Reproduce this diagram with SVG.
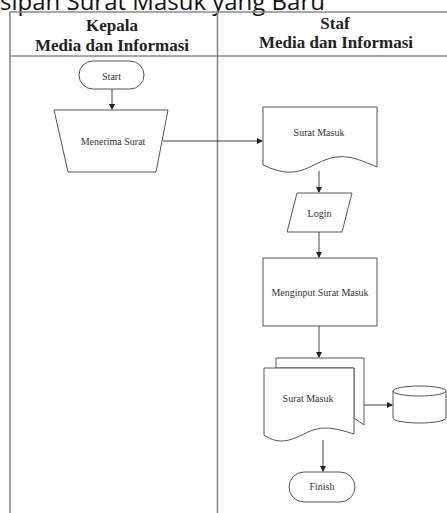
<svg xmlns="http://www.w3.org/2000/svg" width="447" height="513" viewBox="0 0 447 513">
<style>
.frame{fill:none;stroke:#8a8a8a;stroke-width:1.6}
.shape{fill:#fff;stroke:#555;stroke-width:1}
.conn{fill:none;stroke:#444;stroke-width:1}
.lbl{font-family:"Liberation Serif",serif;font-size:10px;fill:#333;text-anchor:middle}
.hdr{font-family:"Liberation Serif",serif;font-size:17px;font-weight:bold;fill:#222;text-anchor:middle}
.title{font-family:"Open Sans","Noto Sans",sans-serif;font-size:24px;fill:#111}
</style>
<defs>
<marker id="ah" markerWidth="6" markerHeight="6" refX="5" refY="3" orient="auto" markerUnits="userSpaceOnUse">
<path d="M0,0 L6,3 L0,6 z" fill="#222"/>
</marker>
</defs>
<rect width="447" height="513" fill="#fff"/>
<text class="title" x="0" y="9.5" textLength="325" lengthAdjust="spacingAndGlyphs">sipan Surat Masuk yang Baru</text>
<g id="frame">
<path class="frame" d="M10,513 V12 H447"/>
<path class="frame" d="M10,56 H447"/>
<path class="frame" d="M217.5,12 V513"/>
</g>
<g id="lane-kepala">
<text class="hdr" x="112" y="31">Kepala</text>
<text class="hdr" x="112" y="50.5">Media dan Informasi</text>
</g>
<g id="lane-staf">
<text class="hdr" x="335" y="28.5">Staf</text>
<text class="hdr" x="336" y="48">Media dan Informasi</text>
</g>
<g id="connectors">
<path class="conn" d="M112,89 V109" marker-end="url(#ah)"/>
<path class="conn" d="M163,141 H262" marker-end="url(#ah)"/>
<path class="conn" d="M319,171 V192" marker-end="url(#ah)"/>
<path class="conn" d="M319,232 V257" marker-end="url(#ah)"/>
<path class="conn" d="M319,326 V357" marker-end="url(#ah)"/>
<path class="conn" d="M364,405 H392" marker-end="url(#ah)"/>
<path class="conn" d="M323,440 V471" marker-end="url(#ah)"/>
</g>
<g id="start">
<rect class="shape" x="79" y="61" width="65" height="28" rx="14"/>
<text class="lbl" x="111.5" y="79.5">Start</text>
</g>
<g id="menerima">
<path class="shape" d="M54,110 H168 L156,172 H68 Z"/>
<text class="lbl" x="113" y="144.5">Menerima Surat</text>
</g>
<g id="surat-masuk-1">
<path class="shape" d="M263,107 H377 V167 C360,160 345,152 325,160 C305,168 295,180 263,165 Z"/>
<text class="lbl" x="319" y="136">Surat Masuk</text>
</g>
<g id="login">
<path class="shape" d="M297,193 H352 L342,232 H287 Z"/>
<text class="lbl" x="319.5" y="216.5">Login</text>
</g>
<g id="menginput">
<rect class="shape" x="263" y="258" width="114" height="68"/>
<text class="lbl" x="320" y="296">Menginput Surat Masuk</text>
</g>
<g id="surat-masuk-2">
<path class="shape" d="M276,358 H364 V425 L354,418 V368 H276 Z"/>
<path class="shape" d="M264,368 H354 V434 C340,430 325,424 308,432 C292,440 280,446 264,435 Z"/>
<text class="lbl" x="308" y="401.5">Surat Masuk</text>
</g>
<g id="database">
<path class="shape" d="M393,391 V418 A26.5,5 0 0 0 446,418 V391"/>
<ellipse class="shape" cx="419.5" cy="391" rx="26.5" ry="5"/>
</g>
<g id="finish">
<rect class="shape" x="289" y="472" width="66" height="30" rx="15"/>
<text class="lbl" x="322" y="490">Finish</text>
</g>
</svg>
